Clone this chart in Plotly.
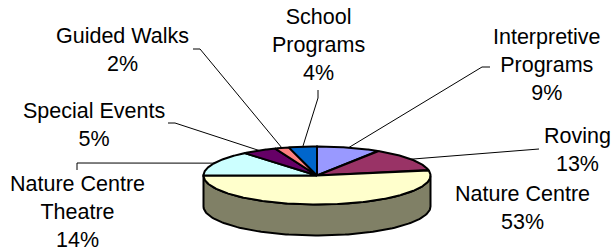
import numpy as np
import plotly.graph_objects as go

# ---- data ----
categories = ["Interpretive Programs", "Roving", "Nature Centre",
              "Nature Centre Theatre", "Special Events", "Guided Walks",
              "School Programs"]
label_text = ["Interpretive<br>Programs", "Roving", "Nature Centre",
              "Nature Centre<br>Theatre", "Special Events", "Guided Walks",
              "School<br>Programs"]
values = [9, 13, 53, 14, 5, 2, 4]

# ---- styles ----
top_colors = ["#9999FF", "#993366", "#FFFFCC", "#CCFFFF", "#660066", "#FF8080", "#0066CC"]
side_colors = ["#4d4d80", "#4d1a33", "#808066", "#668080", "#330033", "#804040", "#003366"]

W, H = 611, 249
cx, cy, rx, ry, depth = 317, 175.5, 113.5, 29, 31

# label placement (annotation centre) and leader elbow points (layout)
label_pos = {
    "Interpretive Programs": (547, 65),
    "Roving": (577, 150),
    "Nature Centre": (522, 207.5),
    "Nature Centre Theatre": (77, 212),
    "Special Events": (94, 124.5),
    "Guided Walks": (122, 50),
    "School Programs": (318, 45),
}
leader_elbows = {
    "Interpretive Programs": [(482, 67), (490, 67)],
    "Roving": [(539, 149)],
    "Nature Centre": None,
    "Nature Centre Theatre": [(77, 163), (77, 170)],
    "Special Events": [(175, 123), (168, 123)],
    "Guided Walks": [(200, 49), (193, 49)],
    "School Programs": [(318, 98), (318, 90)],
}

total = float(sum(values))
fracs = np.array(values) / total
cum = np.concatenate([[0], np.cumsum(fracs)])
start_deg = 90.0


def ell(theta_deg, dy=0.0):
    t = np.radians(theta_deg)
    return cx + rx * np.cos(t), cy - ry * np.sin(t) + dy


fig = go.Figure()

# side walls (visible where the front faces the viewer: sin(theta) < 0)
for i, v in enumerate(values):
    a0 = start_deg - 360 * cum[i]
    a1 = start_deg - 360 * cum[i + 1]
    lo, hi = a1, a0
    for shift in (-720, -360, 0, 360):
        s_lo, s_hi = max(lo + shift, -180), min(hi + shift, 0)
        if s_hi > s_lo:
            th = np.linspace(s_lo, s_hi, 120)
            xt, yt = ell(th)
            xb, yb = ell(th[::-1], depth)
            xs = np.concatenate([xt, xb, xt[:1]])
            ys = np.concatenate([yt, yb, yt[:1]])
            fig.add_trace(go.Scatter(x=xs, y=ys, mode="lines", fill="toself",
                                     fillcolor=side_colors[i],
                                     line=dict(color="black", width=2),
                                     hoverinfo="skip", showlegend=False))

# top faces
for i, v in enumerate(values):
    a0 = start_deg - 360 * cum[i]
    a1 = start_deg - 360 * cum[i + 1]
    th = np.linspace(a0, a1, max(8, int(abs(a0 - a1) * 2)))
    xe, ye = ell(th)
    xs = np.concatenate([[cx], xe, [cx]])
    ys = np.concatenate([[cy], ye, [cy]])
    fig.add_trace(go.Scatter(x=xs, y=ys, mode="lines", fill="toself",
                             fillcolor=top_colors[i],
                             line=dict(color="black", width=2),
                             hoverinfo="skip", showlegend=False,
                             name=categories[i]))

# labels and leader lines
annotations = []
for i, c in enumerate(categories):
    lx, ly = label_pos[c]
    annotations.append(dict(x=lx, y=ly, xref="x", yref="y", showarrow=False,
                            text=f"{label_text[i]}<br>{values[i]}%",
                            xanchor="center", yanchor="middle", align="center",
                            font=dict(family="Liberation Sans, Arial", size=21.5, color="black")))
    elbows = leader_elbows[c]
    if elbows:
        mid = start_deg - 360 * (cum[i] + cum[i + 1]) / 2
        px, py = ell(mid)
        xs = [px] + [p[0] for p in elbows]
        ys = [py] + [p[1] for p in elbows]
        fig.add_trace(go.Scatter(x=xs, y=ys, mode="lines",
                                 line=dict(color="black", width=1),
                                 hoverinfo="skip", showlegend=False))

fig.update_layout(
    width=W, height=H,
    margin=dict(l=0, r=0, t=0, b=0),
    paper_bgcolor="white", plot_bgcolor="white",
    xaxis=dict(range=[0, W], visible=False, fixedrange=True),
    yaxis=dict(range=[H, 0], visible=False, fixedrange=True),
    annotations=annotations,
    showlegend=False,
)

fig.write_html("out.html", config={"displayModeBar": False},
               post_script="document.body.style.margin='0';document.body.style.overflow='hidden';")
